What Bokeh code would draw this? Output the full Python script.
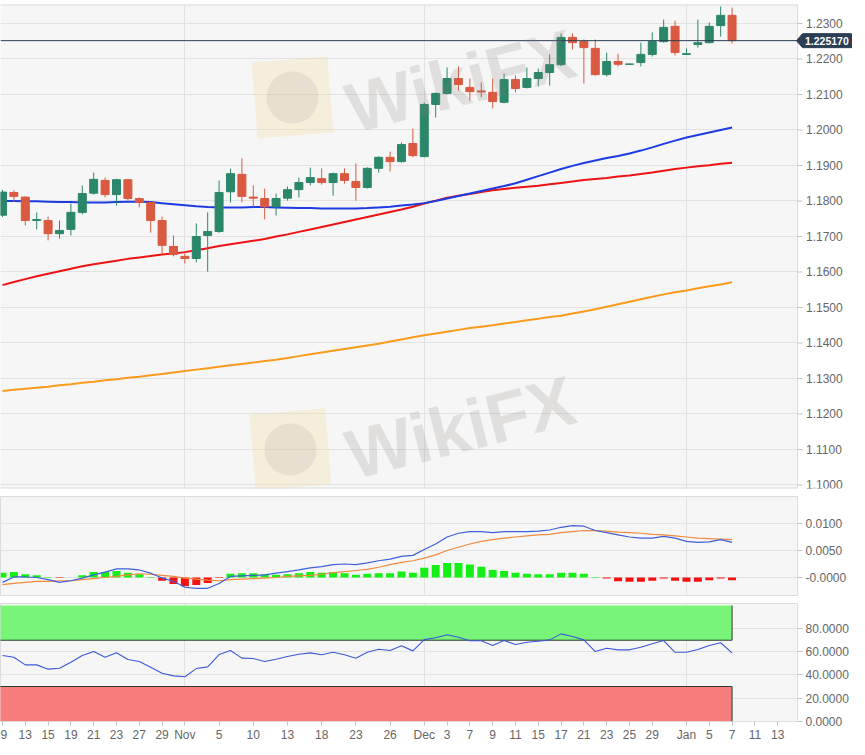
import pandas as pd
from bokeh.plotting import figure
from bokeh.layouts import column
from bokeh.models import Range1d, FixedTicker, Label, PrintfTickFormatter, CustomJSTickFormatter
from bokeh.embed import file_html
from bokeh.resources import INLINE
from bokeh.core.properties import value

# ------------------------------------------------------------------ data
first_day = "2020-10-09"
last_axis_day = "2021-01-13"
days = [d.strftime("%Y-%m-%d") for d in pd.bdate_range(first_day, last_axis_day)]

opens = [1.1760, 1.1824, 1.1811, 1.1745, 1.1745, 1.1708, 1.1720, 1.1768, 1.1822, 1.1858,
         1.1818, 1.1860, 1.1807, 1.1796, 1.1745, 1.1672, 1.1644, 1.1638, 1.1703, 1.1714,
         1.1826, 1.1875, 1.1811, 1.1807, 1.1784, 1.1808, 1.1832, 1.1852, 1.1863, 1.1852,
         1.1877, 1.1855, 1.1838, 1.1892, 1.1923, 1.1911, 1.1962, 1.1925, 1.2072, 1.2103,
         1.2145, 1.2120, 1.2110, 1.2106, 1.2078, 1.2142, 1.2120, 1.2145, 1.2162, 1.2184,
         1.2261, 1.2249, 1.2230, 1.2156, 1.2193, 1.2185, 1.2190, 1.2213, 1.2249, 1.2292,
         1.2213, 1.2241, 1.2246, 1.2294, 1.2323]
highs = [1.1831, 1.1830, 1.1813, 1.1768, 1.1756, 1.1745, 1.1793, 1.1844, 1.1880, 1.1866,
         1.1863, 1.1862, 1.1810, 1.1798, 1.1756, 1.1703, 1.1652, 1.1737, 1.1768, 1.1858,
         1.1891, 1.1920, 1.1844, 1.1835, 1.1821, 1.1841, 1.1866, 1.1894, 1.1892, 1.1880,
         1.1892, 1.1906, 1.1895, 1.1926, 1.1939, 1.1965, 1.2004, 1.2077, 1.2106, 1.2176,
         1.2179, 1.2145, 1.2134, 1.2145, 1.2159, 1.2154, 1.2176, 1.2173, 1.2213, 1.2272,
         1.2272, 1.2255, 1.2255, 1.2218, 1.2215, 1.2187, 1.2246, 1.2275, 1.2311, 1.2308,
         1.2230, 1.2311, 1.2303, 1.2348, 1.2345]
lows = [1.1755, 1.1798, 1.1731, 1.1720, 1.1689, 1.1694, 1.1703, 1.1762, 1.1818, 1.1810,
        1.1787, 1.1801, 1.1782, 1.1711, 1.1652, 1.1644, 1.1624, 1.1627, 1.1601, 1.1710,
        1.1796, 1.1796, 1.1782, 1.1748, 1.1759, 1.1801, 1.1810, 1.1844, 1.1846, 1.1815,
        1.1849, 1.1801, 1.1835, 1.1880, 1.1883, 1.1908, 1.1923, 1.1923, 1.2035, 1.2100,
        1.2111, 1.2083, 1.2092, 1.2061, 1.2075, 1.2106, 1.2117, 1.2123, 1.2125, 1.2180,
        1.2227, 1.2131, 1.2153, 1.2151, 1.2179, 1.2184, 1.2179, 1.2207, 1.2246, 1.2210,
        1.2211, 1.2232, 1.2244, 1.2263, 1.2244]
closes = [1.1825, 1.1813, 1.1745, 1.1748, 1.1708, 1.1717, 1.1768, 1.1821, 1.1861, 1.1818,
          1.1860, 1.1807, 1.1796, 1.1745, 1.1675, 1.1649, 1.1638, 1.1700, 1.1714, 1.1824,
          1.1877, 1.1813, 1.1808, 1.1784, 1.1807, 1.1832, 1.1852, 1.1866, 1.1852, 1.1877,
          1.1858, 1.1838, 1.1892, 1.1923, 1.1911, 1.1959, 1.1928, 1.2072, 1.2103, 1.2145,
          1.2128, 1.2108, 1.2107, 1.2080, 1.2142, 1.2117, 1.2145, 1.2162, 1.2184, 1.2261,
          1.2246, 1.2232, 1.2156, 1.2193, 1.2185, 1.2186, 1.2213, 1.2249, 1.2289, 1.2218,
          1.2215, 1.2246, 1.2292, 1.2323, 1.22517]

ma_blue = [1.1800, 1.1800, 1.1799, 1.1799, 1.1798, 1.1797, 1.1797, 1.1796, 1.1796, 1.1796,
           1.1797, 1.1798, 1.1798, 1.1797, 1.1794, 1.1791, 1.1788, 1.1785, 1.1783, 1.1782,
           1.1782, 1.1782, 1.1783, 1.1783, 1.1782, 1.1781, 1.1780, 1.1780, 1.1779, 1.1779,
           1.1779, 1.1779, 1.1780, 1.1782, 1.1784, 1.1787, 1.1790, 1.1794, 1.1800, 1.1807,
           1.1814, 1.1821, 1.1828, 1.1835, 1.1842, 1.1850, 1.1860, 1.1870, 1.1880, 1.1890,
           1.1899, 1.1907, 1.1914, 1.1921, 1.1927, 1.1934, 1.1942, 1.1951, 1.1961, 1.1970,
           1.1979, 1.1986, 1.1993, 1.2000, 1.2007]
ma_red = [1.1563, 1.1572, 1.1580, 1.1588, 1.1595, 1.1602, 1.1609, 1.1616, 1.1622, 1.1627,
          1.1632, 1.1637, 1.1641, 1.1645, 1.1649, 1.1652, 1.1656, 1.1661, 1.1667, 1.1673,
          1.1678, 1.1683, 1.1688, 1.1693, 1.1700, 1.1706, 1.1713, 1.1720, 1.1727, 1.1734,
          1.1741, 1.1748, 1.1755, 1.1762, 1.1769, 1.1776, 1.1784, 1.1793, 1.1801, 1.1809,
          1.1815, 1.1820, 1.1825, 1.1830, 1.1834, 1.1837, 1.1840, 1.1843, 1.1847, 1.1851,
          1.1855, 1.1859, 1.1862, 1.1865, 1.1869, 1.1872, 1.1876, 1.1880, 1.1885, 1.1890,
          1.1894, 1.1898, 1.1901, 1.1905, 1.1908]
ma_orange = [1.1265, 1.1268, 1.1271, 1.1274, 1.1277, 1.1281, 1.1284, 1.1288, 1.1291, 1.1295,
             1.1298, 1.1302, 1.1305, 1.1309, 1.1313, 1.1317, 1.1321, 1.1325, 1.1329, 1.1333,
             1.1337, 1.1341, 1.1345, 1.1349, 1.1353, 1.1358, 1.1363, 1.1368, 1.1373, 1.1378,
             1.1383, 1.1388, 1.1393, 1.1398, 1.1404, 1.1410, 1.1416, 1.1422, 1.1427, 1.1432,
             1.1437, 1.1442, 1.1446, 1.1450, 1.1455, 1.1459, 1.1464, 1.1468, 1.1473, 1.1477,
             1.1483, 1.1489, 1.1495, 1.1502, 1.1509, 1.1516, 1.1523, 1.1530, 1.1537, 1.1543,
             1.1548, 1.1554, 1.1560, 1.1565, 1.1571]

macd_line = [-0.0009, 0.0001, 0.0001, 0.0000, -0.0004, -0.0009, -0.0006, -0.0001, 0.0005, 0.0010,
             0.0016, 0.0016, 0.0014, 0.0008, -0.0001, -0.0007, -0.0018, -0.0020, -0.0020, -0.0011,
             0.0002, 0.0003, 0.0004, 0.0005, 0.0008, 0.0011, 0.0014, 0.0018, 0.0020, 0.0024,
             0.0025, 0.0024, 0.0027, 0.0031, 0.0034, 0.0039, 0.0041, 0.0052, 0.0062, 0.0075,
             0.0082, 0.0085, 0.0085, 0.0083, 0.0085, 0.0085, 0.0085, 0.0086, 0.0088, 0.0093,
             0.0096, 0.0095, 0.0087, 0.0083, 0.0079, 0.0075, 0.0073, 0.0073, 0.0076, 0.0073,
             0.0067, 0.0065, 0.0066, 0.0070, 0.0065]
macd_signal = [-0.0013, -0.0011, -0.0009, -0.0007, -0.0007, -0.0006, -0.0006, -0.0004, -0.0002, 0.0000,
               0.0002, 0.0005, 0.0007, 0.0006, 0.0004, 0.0002, -0.0001, -0.0003, -0.0005, -0.0006,
               -0.0004, -0.0003, -0.0002, -0.0001, 0.0000, 0.0002, 0.0003, 0.0004, 0.0006, 0.0009,
               0.0011, 0.0013, 0.0015, 0.0019, 0.0024, 0.0028, 0.0031, 0.0036, 0.0042, 0.0050,
               0.0056, 0.0062, 0.0067, 0.0070, 0.0073, 0.0075, 0.0077, 0.0079, 0.0080, 0.0083,
               0.0085, 0.0087, 0.0087, 0.0086, 0.0084, 0.0083, 0.0082, 0.0080, 0.0079, 0.0077,
               0.0075, 0.0073, 0.0072, 0.0071, 0.0070]
macd_hist = [0.0009, 0.0010, 0.0006, 0.0004, 0.0001, -0.0001, 0.0000, 0.0004, 0.0010, 0.0010,
             0.0012, 0.0009, 0.0006, 0.0001, -0.0006, -0.0012, -0.0016, -0.0014, -0.0010, -0.0001,
             0.0007, 0.0008, 0.0008, 0.0006, 0.0005, 0.0006, 0.0008, 0.0010, 0.0009, 0.0010,
             0.0008, 0.0005, 0.0007, 0.0008, 0.0008, 0.0011, 0.0009, 0.0018, 0.0023, 0.0027,
             0.0027, 0.0024, 0.0020, 0.0014, 0.0012, 0.0009, 0.0007, 0.0006, 0.0006, 0.0009,
             0.0009, 0.0007, 0.0001, -0.0002, -0.0007, -0.0008, -0.0008, -0.0006, -0.0002, -0.0006,
             -0.0008, -0.0008, -0.0005, -0.0002, -0.0005]

rsi = [56.8, 55.3, 48.7, 48.7, 45.0, 45.8, 51.0, 56.8, 60.2, 55.3,
       59.1, 53.3, 51.6, 46.7, 41.5, 39.2, 38.4, 45.5, 47.0, 57.6,
       61.1, 54.5, 54.2, 51.6, 53.6, 55.9, 57.9, 59.1, 57.4, 59.6,
       57.4, 54.5, 59.6, 62.2, 61.1, 65.2, 60.8, 70.5, 72.1, 74.7,
       72.6, 69.5, 69.5, 65.4, 69.7, 66.3, 68.3, 69.1, 70.3, 75.5,
       73.2, 70.3, 60.2, 63.1, 61.7, 61.7, 64.0, 66.9, 69.7, 59.6,
       59.6, 62.0, 65.4, 67.8, 59.1]
rsi_overbought = 70
rsi_oversold = 30
rsi_top = 100

price_ticks = [1.10, 1.11, 1.12, 1.13, 1.14, 1.15, 1.16, 1.17, 1.18, 1.19, 1.20, 1.21, 1.22, 1.23]
macd_ticks = [0.0, 0.005, 0.010]
rsi_ticks = [0, 20, 40, 60, 80]

tick_dates = ["2020-10-09", "2020-10-13", "2020-10-15", "2020-10-19", "2020-10-21", "2020-10-23",
              "2020-10-27", "2020-10-29", "2020-11-02", "2020-11-05", "2020-11-10", "2020-11-13",
              "2020-11-18", "2020-11-23", "2020-11-26", "2020-12-01", "2020-12-03", "2020-12-07",
              "2020-12-09", "2020-12-11", "2020-12-15", "2020-12-17", "2020-12-21", "2020-12-23",
              "2020-12-25", "2020-12-29", "2021-01-01", "2021-01-05", "2021-01-07", "2021-01-11",
              "2021-01-13"]
tick_labels = ["9", "13", "15", "19", "21", "23", "27", "29", "Nov", "5", "10", "13", "18", "23",
               "26", "Dec", "3", "7", "9", "11", "15", "17", "21", "23", "25", "29", "Jan", "5",
               "7", "11", "13"]
month_names = ["Nov", "Dec", "Jan"]

# ------------------------------------------------------------------ derived
day_index = {d: i for i, d in enumerate(days)}
idx = list(range(len(closes)))
tick_idx = [day_index[d] for d in tick_dates]
month_idx = [day_index[d] for d, l in zip(tick_dates, tick_labels) if l in month_names]
last = idx[-1]
last_close = closes[-1]

UP, DOWN = "#2b876a", "#d95a40"
FONT = "Liberation Sans"
BG = "#f6f6f6"
GRID = "#e2e2e2"
AXIS_TXT = "#666666"
TICK = "#c4c4c4"
NAVY = "#2c3e55"

# frame geometry (pixels)
FRAME_W = 797          # width of the plotting area of every panel
MAIN_W = 858           # main panel is drawn wider so the price tag fits on its own axis strip
X0, X1 = -0.175, 69.74
PX = FRAME_W / (X1 - X0)   # pixels per trading day

xr = Range1d(X0, X1)
xr_main = Range1d(X0, X0 + MAIN_W / PX)


def style_grid(p, yticks):
    for g in p.xgrid:
        g.ticker = FixedTicker(ticks=month_idx)
        g.grid_line_color = GRID
    for g in p.ygrid:
        g.ticker = FixedTicker(ticks=yticks)
        g.grid_line_color = GRID


def style_yaxis(p):
    for ax in p.yaxis:
        ax.axis_line_color = None
        ax.major_tick_line_color = TICK
        ax.major_tick_out = 5
        ax.major_tick_in = 0
        ax.minor_tick_line_color = None
        ax.major_label_text_color = AXIS_TXT
        ax.major_label_text_font = FONT
        ax.major_label_text_font_size = "12px"
        ax.major_label_standoff = 3


# ---------------- main price panel
Y0, Y1 = 1.099014, 1.235352
PY = 484 / (Y1 - Y0)       # pixels per price unit
p1 = figure(frame_width=MAIN_W, frame_height=484, x_range=xr_main, y_range=Range1d(Y0, Y1),
            output_backend="svg", toolbar_location=None,
            x_axis_location=None, y_axis_location=None,
            background_fill_color=BG, border_fill_color="white",
            min_border_left=0, min_border_right=0, min_border_top=4, min_border_bottom=8)
p1.outline_line_color = None
style_grid(p1, price_ticks)

# watermarks
for wx, wy in ((30.3, 1.20560), (30.3, 1.10800)):
    p1.add_layout(Label(x=wx, y=wy, text="WikiFX", text_font=FONT, text_font_size="70px",
                        text_font_style="bold", text_color="#8c817a", text_alpha=0.19,
                        text_baseline="alphabetic", angle=0.25))
p1.rect(x=[25.44, 25.26], y=[1.20915, 1.11000], width=76, height=76, width_units="screen",
        height_units="screen", angle=0.08, fill_color="#f3dc9c", fill_alpha=0.3, line_color=None)
p1.scatter(x=[25.44, 25.26], y=[1.20915, 1.11000], size=52, fill_color="#9a9a9a",
           fill_alpha=0.17, line_color=None)

# moving averages
p1.line(idx, ma_orange, line_color="#f99b1c", line_width=2)
p1.line(idx, ma_red, line_color="#ee1313", line_width=2)
p1.line(idx, ma_blue, line_color="#1c3be0", line_width=2)

# candles
colors = [UP if c >= o else DOWN for o, c in zip(opens, closes)]
p1.segment(x0=idx, y0=lows, x1=idx, y1=highs, line_color=colors, line_width=1)
p1.vbar(x=idx, width=0.7, top=[max(o, c) for o, c in zip(opens, closes)],
        bottom=[min(o, c) for o, c in zip(opens, closes)], fill_color=colors, line_color=colors)

# right axis strip of the main panel (white strip, border, ticks, labels)
p1.quad(left=X1, right=xr_main.end + 1, bottom=Y0 - 1, top=Y1 + 1, fill_color="white",
        line_color=None)
p1.segment(x0=[X1, X0, X0], y0=[Y0, Y1, Y0], x1=[X1, X1, X1], y1=[Y1, Y1, Y0],
           line_color="#dcdcdc", line_width=[1, 2, 2])
p1.segment(x0=[X1] * len(price_ticks), y0=price_ticks,
           x1=[X1 + 5 / PX] * len(price_ticks), y1=price_ticks, line_color=TICK)
p1.text(x=[X1 + 8.5 / PX] * len(price_ticks), y=price_ticks,
        text=[f"{t:.4f}" for t in price_ticks], text_align="left", text_baseline="middle",
        text_font=value(FONT), text_font_size="12px", text_color=AXIS_TXT)

# last price line and tag
p1.segment(x0=[X0], y0=[last_close], x1=[X1], y1=[last_close], line_color=NAVY, line_width=1)
hh = 7 / PY
p1.patch(x=[X1 - 1 / PX, X1 + 5 / PX, X1 + 54 / PX, X1 + 54 / PX, X1 + 5 / PX],
         y=[last_close, last_close + hh, last_close + hh, last_close - hh, last_close - hh],
         fill_color=NAVY, line_color=NAVY)
p1.text(x=[X1 + 7.5 / PX], y=[last_close], text=[f"{last_close:.6f}"], text_align="left",
        text_baseline="middle", text_font=value(FONT), text_font_size="10.5px",
        text_font_style="bold", text_color="white")

# ---------------- MACD panel
p2 = figure(frame_width=FRAME_W, frame_height=99, x_range=xr, y_range=Range1d(-0.00333, 0.0150),
            output_backend="svg", toolbar_location=None,
            x_axis_location=None, y_axis_location="right",
            background_fill_color=BG, border_fill_color="white",
            min_border_left=0, min_border_top=0, min_border_bottom=8)
p2.outline_line_color = "#dcdcdc"
style_grid(p2, macd_ticks)
style_yaxis(p2)
p2.yaxis.ticker = FixedTicker(ticks=macd_ticks)
p2.yaxis.formatter = CustomJSTickFormatter(
    code="return (tick <= 0 ? '-' : '') + Math.abs(tick).toFixed(4);")
hist_colors = ["#14f014" if h >= 0 else "#f51010" for h in macd_hist]
p2.vbar(x=idx, width=0.7, top=macd_hist, bottom=0, fill_color=hist_colors, line_color=None)
p2.line(idx, macd_signal, line_color="#f08a3e", line_width=1.2)
p2.line(idx, macd_line, line_color="#3f5fd8", line_width=1.2)

# ---------------- RSI panel
p3 = figure(frame_width=FRAME_W, frame_height=118, x_range=xr, y_range=Range1d(-0.25, 101.75),
            output_backend="svg", toolbar_location=None,
            x_axis_location="below", y_axis_location="right",
            background_fill_color=BG, border_fill_color="white",
            min_border_left=0, min_border_top=0, min_border_bottom=0)
p3.outline_line_color = "#dcdcdc"
style_grid(p3, rsi_ticks)
style_yaxis(p3)
p3.yaxis.ticker = FixedTicker(ticks=rsi_ticks)
p3.yaxis.formatter = PrintfTickFormatter(format="%.4f")
zl = X0 - 1
p3.quad(left=[zl, zl], right=[last, last], bottom=[rsi_overbought, 0],
        top=[rsi_top, rsi_oversold], fill_color=["#78f578", "#f77c7c"], line_color=None)
p3.segment(x0=[zl, zl, last, last], y0=[rsi_overbought, rsi_oversold, rsi_overbought, 0],
           x1=[last, last, last, last], y1=[rsi_overbought, rsi_oversold, rsi_top, rsi_oversold],
           line_color="#2e3a2e", line_width=1)
p3.line(idx, rsi, line_color="#3c58d6", line_width=1.1)

xa = p3.xaxis[0]
xa.ticker = FixedTicker(ticks=tick_idx)
xa.major_label_overrides = {i: l for i, l in zip(tick_idx, tick_labels)}
xa.axis_line_color = None
xa.major_tick_line_color = TICK
xa.major_tick_out = 4
xa.major_tick_in = 0
xa.minor_tick_line_color = None
xa.major_label_text_color = AXIS_TXT
xa.major_label_text_font = FONT
xa.major_label_text_font_size = "12px"
xa.major_label_standoff = 2

layout = column(p1, p2, p3, spacing=0)
open("out.html", "w").write(file_html(layout, INLINE))
